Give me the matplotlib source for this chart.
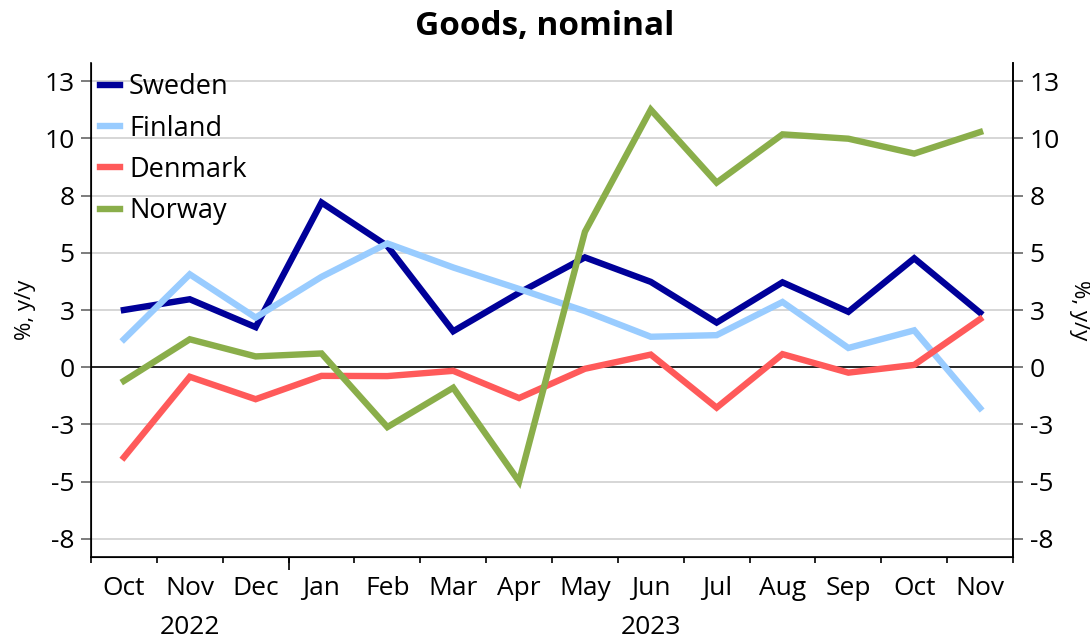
import matplotlib
matplotlib.use("Agg")
import matplotlib.pyplot as plt
import numpy as np

plt.rcParams['font.family'] = ['Open Sans', 'DejaVu Sans']

# Data (% y/y), Oct 2022 - Nov 2023
months = ["Oct", "Nov", "Dec", "Jan", "Feb", "Mar", "Apr",
          "May", "Jun", "Jul", "Aug", "Sep", "Oct", "Nov"]
years = ["2022", "2023"]
year_pos = [1, 8]

sweden = [2.5, 2.97, 1.75, 7.2, 5.3, 1.57, 3.25, 4.8, 3.73, 1.95, 3.71, 2.42, 4.76, 2.38]
finland = [1.22, 4.06, 2.17, 3.95, 5.41, 4.36, 3.42, 2.45, 1.33, 1.40, 2.85, 0.84, 1.61, -1.79]
denmark = [-3.94, -0.42, -1.40, -0.38, -0.39, -0.16, -1.35, -0.07, 0.55, -1.77, 0.57, -0.24, 0.10, 2.10]
norway = [-0.60, 1.22, 0.47, 0.60, -2.62, -0.90, -5.0, 5.92, 11.26, 8.07, 10.18, 9.99, 9.34, 10.28]

ytick_vals = [12.5, 10, 7.5, 5, 2.5, 0, -2.5, -5, -7.5]
ytick_labels = ["13", "10", "8", "5", "3", "0", "-3", "-5", "-8"]

series = [("Sweden", sweden, "#000099"),
          ("Finland", finland, "#99CCFF"),
          ("Denmark", denmark, "#FF5A5A"),
          ("Norway", norway, "#8AAE4A")]

FS = 19

fig = plt.figure(figsize=(10.9, 6.39), dpi=100)
ax = fig.add_axes([91 / 1090, 1 - 557 / 639, (1013 - 91) / 1090, (557 - 63) / 639])

x = np.arange(len(months))
ylim = (-8.3, 13.3)

for name, vals, col in series:
    ax.plot(x, vals, color=col, linewidth=4.6, label=name, solid_joinstyle="miter")

ax.set_xlim(-0.5, len(months) - 0.5)
ax.set_ylim(*ylim)

# grid + zero line
for v in ytick_vals:
    if v == 0:
        ax.axhline(v, color="black", linewidth=1.2, zorder=1)
    else:
        ax.axhline(v, color="#D0D0D0", linewidth=1.2, zorder=0)

ax.set_yticks(ytick_vals)
ax.set_yticklabels(ytick_labels)
ax.tick_params(axis="y", direction="out", length=7, width=1.2, color="#666666",
               labelsize=FS, pad=5)

# x axis: month labels at centres, ticks at boundaries
ax.set_xticks(x)
ax.set_xticklabels(months)
ax.tick_params(axis="x", length=0, labelsize=FS, pad=14)
ax.set_xticks(np.arange(-0.5, len(months)), minor=True)
ax.tick_params(axis="x", which="minor", direction="out", length=4, width=1.2)

sec = ax.secondary_xaxis("bottom")
sec.set_xticks([2.5])
sec.set_xticklabels([""])
sec.tick_params(length=9, width=1.2)
sec.spines["bottom"].set_visible(False)

for pos, yr in zip(year_pos, years):
    ax.text(pos, -0.117, yr, transform=ax.get_xaxis_transform(),
            ha="center", va="top", fontsize=FS)

ax.spines["top"].set_visible(False)
for s in ["left", "right", "bottom"]:
    ax.spines[s].set_linewidth(1.2)

ax.set_ylabel("%, y/y", fontsize=16, labelpad=6)

ax2 = ax.twinx()
ax2.set_ylim(*ylim)
ax2.set_yticks(ytick_vals)
ax2.set_yticklabels(ytick_labels)
ax2.tick_params(axis="y", direction="out", length=7, width=1.2, color="#666666",
                labelsize=FS, pad=5)
ax2.spines["top"].set_visible(False)
ax2.spines["right"].set_linewidth(1.2)
ax2.set_ylabel("%, y/y", fontsize=16, rotation=270, labelpad=22)

ax.legend(loc="upper left", bbox_to_anchor=(9 / 922, 0.979), frameon=False, fontsize=19.5,
          handlelength=0.74, handletextpad=0.33, labelspacing=0.49,
          borderaxespad=0, borderpad=0)

fig.suptitle("Goods, nominal", fontsize=24, fontweight="bold", y=0.985)

fig.savefig("out.png", dpi=100)
plt.close(fig)
